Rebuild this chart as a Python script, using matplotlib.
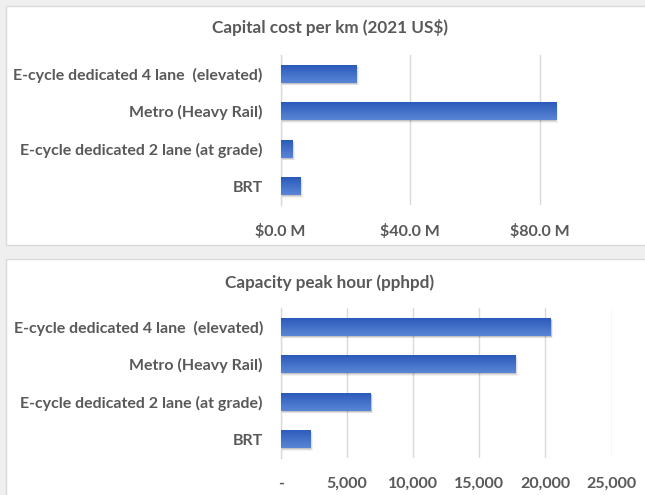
import numpy as np
import matplotlib
matplotlib.use("Agg")
import matplotlib.pyplot as plt
from matplotlib.patches import Rectangle
from matplotlib.ticker import FuncFormatter

# Transport modes, listed bottom to top as drawn
categories = [
    "BRT",
    "E-cycle dedicated 2 lane (at grade)",
    "Metro (Heavy Rail)",
    "E-cycle dedicated 4 lane  (elevated)",
]
capital_cost_musd = [6.0, 3.5, 84.8, 23.3]      # million 2021 US$ per km
capacity_pphpd = [2200, 6800, 17700, 20400]     # passengers per hour per direction

cost_ticks = [0, 40, 80]
capacity_ticks = [0, 5000, 10000, 15000, 20000, 25000]

TEXT = "#595959"
GRID = "#d9d9d9"
FONT = ["Lato", "DejaVu Sans"]

W, H = 645, 495
fig = plt.figure(figsize=(W / 100, H / 100), dpi=100, facecolor="#efefef")


def px_rect(x0, y0, x1, y1):
    """Figure-fraction rectangle from pixel corners (origin top-left)."""
    return [x0 / W, 1 - y1 / H, (x1 - x0) / W, (y1 - y0) / H]


# white chart cards
for y0, y1 in [(6, 245), (259, 510)]:
    r = px_rect(5.5, y0, 660, y1)
    fig.patches.append(Rectangle((r[0], r[1]), r[2], r[3], transform=fig.transFigure,
                                 facecolor="white", edgecolor=GRID, linewidth=1.0, zorder=-5))

grad = np.linspace(0, 1, 64).reshape(-1, 1)
top_c = np.array([0x5b, 0x86, 0xd6]) / 255
bot_c = np.array([0x2a, 0x5a, 0xba]) / 255
grad_img = (top_c * (1 - grad) + bot_c * grad).reshape(64, 1, 3)


def draw_panel(ax, values, xmax, ticks, fmt, title, title_y, ax_w_px):
    ax.set_facecolor("none")
    y = np.arange(len(values))
    h = 0.48
    # soft drop shadow
    for k, a in [(3, 0.05), (2, 0.08), (1, 0.12)]:
        dx = xmax * (k * 0.9) / ax_w_px
        dy = k * 0.9 / 37.6
        ax.barh(y - dy, np.array(values) + dx, height=h, left=0,
                color="black", alpha=a, linewidth=0, zorder=2)
    bars = ax.barh(y, values, height=h, color="#4472c4", linewidth=0, zorder=3)
    for b in bars:
        x0, y0 = b.get_x(), b.get_y()
        im = ax.imshow(grad_img, extent=[x0, x0 + b.get_width(), y0 + b.get_height(), y0],
                       aspect="auto", zorder=4, interpolation="bilinear")
        im.set_clip_path(b)
    ax.set_xlim(0, xmax)
    ax.set_ylim(-0.5, len(values) - 0.5)
    ax.set_xticks(ticks)
    ax.xaxis.set_major_formatter(FuncFormatter(fmt))
    ax.set_yticks(y)
    ax.set_yticklabels(categories)
    ax.grid(axis="x", color=GRID, linewidth=1.0, zorder=1)
    ax.set_axisbelow(True)
    for s in ["top", "right", "bottom"]:
        ax.spines[s].set_visible(False)
    ax.spines["left"].set_color(GRID)
    ax.spines["left"].set_linewidth(1.0)
    ax.tick_params(axis="both", length=0, colors=TEXT, labelsize=11.5)
    ax.tick_params(axis="x", pad=13.5)
    ax.tick_params(axis="y", pad=12.8)
    for lab in ax.get_xticklabels() + ax.get_yticklabels():
        lab.set_fontfamily(FONT)
        lab.set_fontweight("bold")
        lab.set_color(TEXT)
    fig.text(329.5 / W, 1 - title_y / H, title, ha="center", va="center",
             fontsize=12.3, fontweight="bold", color=TEXT, family=FONT)


# capital cost panel
ax1 = fig.add_axes(px_rect(280.5, 55, 620, 205))
draw_panel(ax1, capital_cost_musd, 80 * (620 - 280.5) / 259.5, cost_ticks,
           lambda v, p: f"${v:.1f} M", "Capital cost per km (2021 US$)", 28, 620 - 280.5)

# capacity panel
ax2 = fig.add_axes(px_rect(280.7, 308, 611.5, 458))
draw_panel(ax2, capacity_pphpd, 25000, capacity_ticks,
           lambda v, p: "-" if v == 0 else f"{v:,.0f}", "Capacity peak hour (pphpd)", 283,
           611.5 - 280.7)

fig.savefig("out.png", dpi=100, facecolor=fig.get_facecolor())
